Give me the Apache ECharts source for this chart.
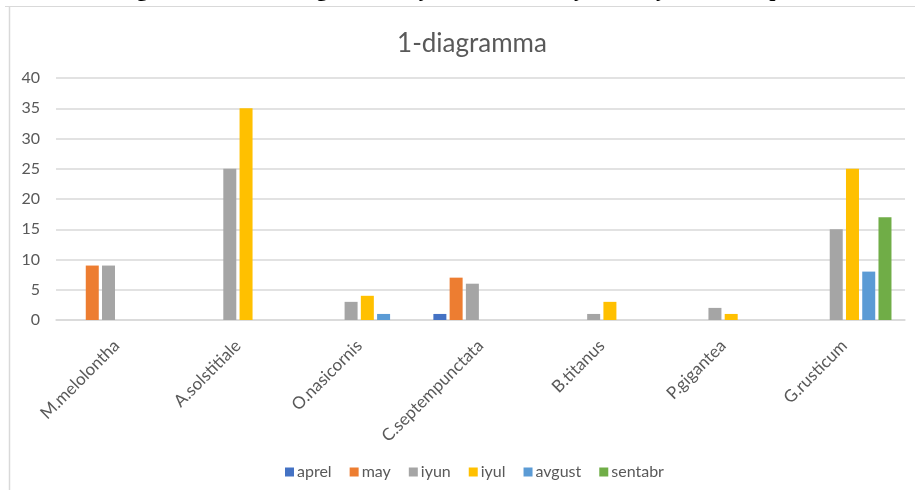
<!DOCTYPE html>
<html>
<head>
<meta charset="utf-8">
<script src="https://cdn.jsdelivr.net/npm/echarts@6/dist/echarts.min.js"></script>
<style>html,body{margin:0;padding:0;background:#fff;}#c{width:915px;height:490px;}</style>
</head>
<body>
<div id="c"></div>
<script>
var categories = ['M.melolontha','A.solstitiale','O.nasicornis','C.septempunctata','B.titanus','P.gigantea','G.rusticum'];
var seriesNames = ['aprel','may','iyun','iyul','avgust','sentabr'];
var aprel   = [null, null, null, 1, null, null, null];
var may     = [9, null, null, 7, null, null, null];
var iyun    = [9, 25, 3, 6, 1, 2, 15];
var iyul    = [null, 35, 4, null, 3, 1, 25];
var avgust  = [null, null, 1, null, null, null, 8];
var sentabr = [null, null, null, null, null, null, 17];
var yTicks = [0, 5, 10, 15, 20, 25, 30, 35, 40];
var colors = ['#4472C4','#ED7D31','#A5A5A5','#FFC000','#5B9BD5','#70AD47'];
var values = [aprel, may, iyun, iyul, avgust, sentabr];

var chart = echarts.init(document.getElementById('c'), null, {renderer:'canvas'});
var font = 'Lato, "Open Sans", sans-serif';
chart.setOption({
  animation: false,
  color: colors,
  title: {
    text: '1-diagramma',
    left: 467, top: 26, textAlign: 'center',
    textStyle: {fontFamily: font, fontSize: 26, fontWeight: 'normal', color: '#595959'}
  },
  legend: {
    data: seriesNames,
    top: 459, left: 280,
    itemWidth: 9, itemHeight: 9, itemGap: 18,
    icon: 'rect',
    textStyle: {fontFamily: font, fontSize: 16, color: '#595959', padding: [0,0,0,-2]}
  },
  grid: {left: 56, right: 10, top: 78, bottom: 170, containLabel: false},
  xAxis: {
    type: 'category', data: categories,
    axisLine: {lineStyle: {color: '#d9d9d9', width: 1.5}},
    axisTick: {show: false},
    axisLabel: {rotate: 45, margin: 23, fontFamily: font, fontSize: 17, color: '#595959', interval: 0}
  },
  yAxis: {
    type: 'value', min: 0, max: 40, interval: 5,
    axisLine: {show: false}, axisTick: {show: false},
    axisLabel: {margin: 16, fontFamily: font, fontSize: 16, color: '#595959'},
    splitLine: {lineStyle: {color: '#d9d9d9', width: 1.5}}
  },
  series: seriesNames.map(function(n, i){
    return {name: n, type: 'bar', data: values[i], barWidth: 13, barGap: '25%', barCategoryGap: '23%'};
  }),
  graphic: [
    {type: 'line', shape: {x1: 5, y1: 6.5, x2: 915, y2: 6.5}, style: {stroke: '#d9d9d9', lineWidth: 1}},
    {type: 'line', shape: {x1: 9.5, y1: 6, x2: 9.5, y2: 490}, style: {stroke: '#d9d9d9', lineWidth: 1.5}},
    {type: 'text', left: 78, top: -21, style: {text: "Uchragan hasharotlarning mavsumiy dinamikasi bo'yicha ro'yxati va tarqalishi", fontFamily: '"Liberation Serif", serif', fontWeight: 'bold', fontSize: 22, fill: '#000'}}
  ]
});
</script>
</body>
</html>
